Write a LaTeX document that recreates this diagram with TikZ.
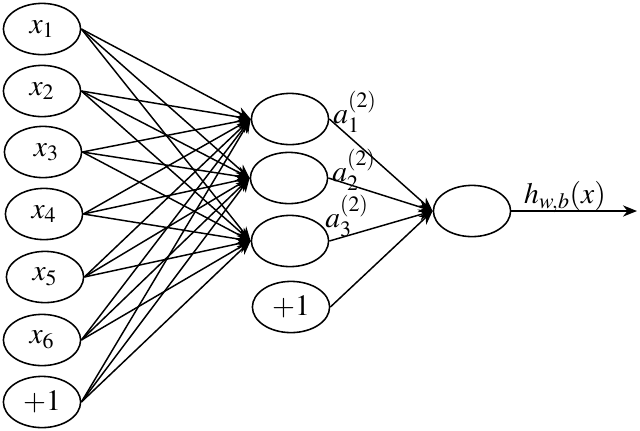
\documentclass[tikz,border=0pt]{standalone}
\usepackage{amsmath}
\usepackage{mathptmx}
\usepackage{tikz}
\usetikzlibrary{shapes.geometric, arrows.meta}
\tikzstyle{neuron} = [ellipse, draw=black, line width=1.1pt, minimum width=1.93cm, minimum height=1.28cm, inner sep=0pt, text centered]
\tikzstyle{arrow} = [line width=1.05pt,->,>={Stealth[length=10pt,width=8pt]}]

\begin{document}
\begin{tikzpicture}[x=0.025cm, y=-0.025cm, font=\fontsize{21}{24}\selectfont]
                            \useasboundingbox (0, 0) rectangle (640, 430);
                            \node [neuron] (in1) at (42, 29) {$x_1$};
                            \node [neuron] (in2) at (42, 91) {$x_2$};
                            \node [neuron] (in3) at (43, 152) {$\;x_3$};
                            \node [neuron] (in4) at (44, 214) {$x_4$};
                            \node [neuron] (in5) at (45, 277) {$x_5$};
                            \node [neuron] (in6) at (42, 340) {$x_6$};
                            \node [neuron] (inb) at (42, 402) {$+1$};
                            \node [neuron] (hid1) at (290, 119) {};
                            \node [neuron] (hid2) at (289, 178) {};
                            \node [neuron] (hid3) at (290, 241) {};
                            \node [neuron] (hidb) at (291, 307) {$+1$};
                            \node [neuron] (out) at (472, 211) {};
                            \coordinate (end) at (637, 211);
                            \draw [arrow] (in1.east) -- (hid1.west);
                            \draw [arrow] (in1.east) -- (hid2.west);
                            \draw [arrow] (in1.east) -- (hid3.west);
                            \draw [arrow] (in2.east) -- (hid1.west);
                            \draw [arrow] (in2.east) -- (hid2.west);
                            \draw [arrow] (in2.east) -- (hid3.west);
                            \draw [arrow] (in3.east) -- (hid1.west);
                            \draw [arrow] (in3.east) -- (hid2.west);
                            \draw [arrow] (in3.east) -- (hid3.west);
                            \draw [arrow] (in4.east) -- (hid1.west);
                            \draw [arrow] (in4.east) -- (hid2.west);
                            \draw [arrow] (in4.east) -- (hid3.west);
                            \draw [arrow] (in5.east) -- (hid1.west);
                            \draw [arrow] (in5.east) -- (hid2.west);
                            \draw [arrow] (in5.east) -- (hid3.west);
                            \draw [arrow] (in6.east) -- (hid1.west);
                            \draw [arrow] (in6.east) -- (hid2.west);
                            \draw [arrow] (in6.east) -- (hid3.west);
                            \draw [arrow] (inb.east) -- (hid1.west);
                            \draw [arrow] (inb.east) -- (hid2.west);
                            \draw [arrow] (inb.east) -- (hid3.west);
                            \draw [arrow] (hid1.east) -- (out.west);
                            \draw [arrow] (hid2.east) -- (out.west);
                            \draw [arrow] (hid3.east) -- (out.west);
                            \draw [arrow] (hidb.east) -- (out.west);
                            \draw [arrow] (out.east) -- (end);
                            \node (lbla1) at (355, 112) {$a_1^{(2)}$};
                            \node (lbla2) at (354, 170) {$a_2^{(2)}$};
                            \node (lbla3) at (347, 216) {$a_3^{(2)}$};
                            \node (lblh) at (565, 197) {$h_{w,b}(x)$};
                        \end{tikzpicture}
\end{document}
